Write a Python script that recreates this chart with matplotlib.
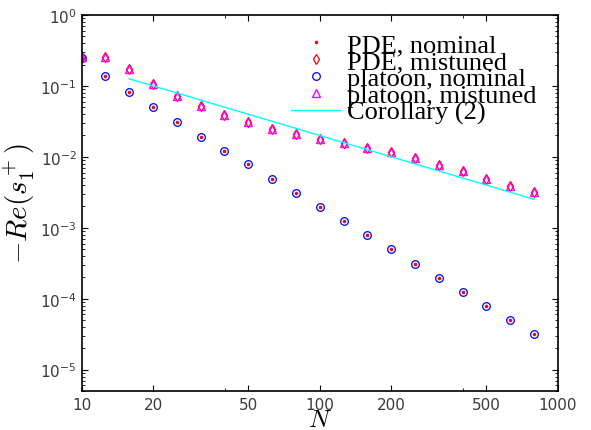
import numpy as np
import matplotlib
matplotlib.use('Agg')
import matplotlib.pyplot as plt
from matplotlib.ticker import FixedLocator, NullFormatter, LogLocator

plt.rcParams['mathtext.fontset'] = 'cm'

### data
N = [10, 12.6, 15.8, 20, 25.1, 31.6, 39.8, 50.1, 63.1, 79.4,
     100, 126, 158, 200, 251, 316, 398, 501, 631, 794]

# nominal (PDE and platoon coincide)
nominal = [0.25, 0.14, 0.0815, 0.050, 0.0314, 0.0193, 0.01215, 0.0078, 0.0049, 0.00308,
           0.00196, 0.00124, 7.8e-4, 4.95e-4, 3.11e-4, 1.98e-4, 1.26e-4, 7.9e-5, 4.95e-5, 3.14e-5]

# mistuned (PDE and platoon coincide)
mistuned = [0.255, 0.255, 0.174, 0.107, 0.073, 0.052, 0.0395, 0.031, 0.0248, 0.0211,
            0.0179, 0.0157, 0.0134, 0.01164, 0.0096, 0.0077, 0.0063, 0.0049, 0.0039, 0.0032]

corollary_N = [15.85, 794]
corollary_val = [0.126, 0.00252]

x_ticks = [10, 20, 50, 100, 200, 500, 1000]
x_minor = [40, 400]

### plotting
fig = plt.figure(figsize=(5.91, 4.31), dpi=100)
ax = fig.add_axes([0.138, 0.0905, 0.806, 0.8725])

ax.loglog(N, nominal, '.', color='red', ms=3, label='PDE, nominal')
ax.loglog(N, mistuned, 'd', mfc='none', mec='red', ms=5, mew=0.9, label='PDE, mistuned')
ax.loglog(N, nominal, 'o', mfc='none', mec='blue', ms=5.5, mew=0.9, label='platoon, nominal')
ax.loglog(N, mistuned, '^', mfc='none', mec='magenta', ms=6, mew=1.0, label='platoon, mistuned')
ax.loglog(corollary_N, corollary_val, '-', color='cyan', lw=1, label='Corollary (2)')

ax.set_xlim(10, 1000)
ax.set_ylim(5e-6, 1)

ax.xaxis.set_major_locator(FixedLocator(x_ticks))
ax.xaxis.set_minor_locator(FixedLocator(x_minor))
ax.set_xticklabels([str(t) for t in x_ticks])
ax.xaxis.set_minor_formatter(NullFormatter())
ax.yaxis.set_major_locator(LogLocator(base=10, numticks=10))
ax.yaxis.set_minor_locator(LogLocator(base=10, subs=np.arange(2, 10), numticks=10))
ax.yaxis.set_minor_formatter(NullFormatter())

ax.tick_params(which='both', direction='in', top=True, right=True,
               labelsize=11, labelcolor='#3a3a3a')
ax.tick_params(which='major', length=4, width=0.8)
ax.tick_params(which='minor', length=2, width=0.6)
ax.tick_params(axis='x', pad=4)
for s in ax.spines.values():
    s.set_linewidth(1.2)

ax.set_xlabel('$N$', fontsize=18, labelpad=-3)
ax.set_ylabel('$-Re(s_1^+)$', fontsize=21, labelpad=2)

leg = ax.legend(loc='upper left', bbox_to_anchor=(0.44, 0.952), frameon=False,
                prop={'family': 'Liberation Serif', 'size': 19},
                labelspacing=-0.25, handlelength=1.85, handletextpad=0.25,
                borderpad=0, borderaxespad=0)

fig.savefig('out.png', dpi=100)
